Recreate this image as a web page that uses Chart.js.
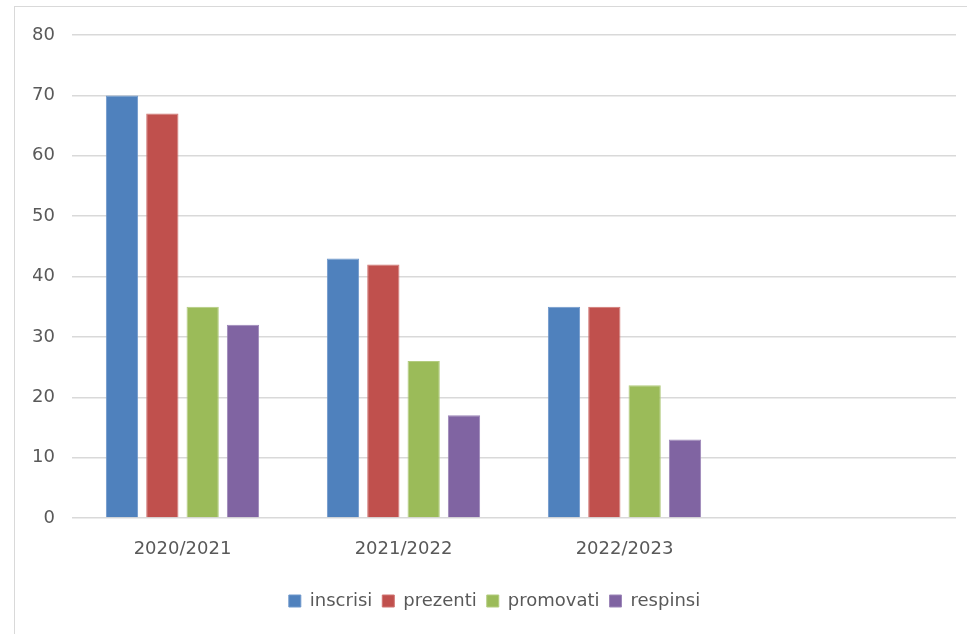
<!DOCTYPE html>
<html>
<head>
<meta charset="utf-8">
<script src="https://cdn.jsdelivr.net/npm/chart.js@4/dist/chart.umd.min.js"></script>
<style>
  html, body { margin: 0; padding: 0; background: #ffffff; overflow: hidden; }
  #wrap { position: relative; width: 967px; height: 634px; }
  #frame { position: absolute; left: 14px; top: 6px; width: 1000px; height: 700px; border: 1px solid #d9d9d9; box-sizing: border-box; }
  canvas { position: absolute; left: 0; top: 0; }
</style>
</head>
<body>
<div id="wrap">
  <div id="frame"></div>
  <canvas id="c" width="967" height="634"></canvas>
</div>
<script>
const categories = ['2020/2021', '2021/2022', '2022/2023', ''];
const inscrisi  = [70, 43, 35, null];
const prezenti  = [67, 42, 35, null];
const promovati = [35, 26, 22, null];
const respinsi  = [32, 17, 13, null];
const yTicks = [0, 10, 20, 30, 40, 50, 60, 70, 80];

const textColor = '#595959';
const fontFamily = '"DejaVu Sans", sans-serif';

new Chart(document.getElementById('c'), {
  type: 'bar',
  data: {
    labels: categories,
    datasets: [
      { label: 'inscrisi',  data: inscrisi,  backgroundColor: '#4F81BD', borderColor: '#6f98cc', borderWidth: 1 },
      { label: 'prezenti',  data: prezenti,  backgroundColor: '#C0504D', borderColor: '#d07572', borderWidth: 1 },
      { label: 'promovati', data: promovati, backgroundColor: '#9BBB59', borderColor: '#b3cc7f', borderWidth: 1 },
      { label: 'respinsi',  data: respinsi,  backgroundColor: '#8064A2', borderColor: '#9c86b8', borderWidth: 1 }
    ]
  },
  options: {
    responsive: false,
    animation: false,
    devicePixelRatio: 1,
    layout: { padding: { left: 33, right: 11, top: 35, bottom: 14 } },
    datasets: { bar: { categoryPercentage: 0.73, barPercentage: 0.8 } },
    plugins: {
      legend: {
        position: 'bottom',
        labels: {
          boxWidth: 12, boxHeight: 12, padding: 10,
          color: textColor,
          font: { family: fontFamily, size: 18 }
        }
      },
      tooltip: { enabled: false }
    },
    scales: {
      x: {
        grid: { display: false, drawTicks: false },
        border: { display: false },
        ticks: { color: textColor, font: { family: fontFamily, size: 18 }, padding: 21, maxRotation: 0 },
        afterFit: (s) => { s.height = 64; }
      },
      y: {
        min: 0, max: 80,
        afterBuildTicks: (s) => { s.ticks = yTicks.map(v => ({ value: v })); },
        grid: { color: '#d9d9d9', lineWidth: 1.5, drawTicks: false },
        border: { display: false },
        ticks: { color: textColor, font: { family: fontFamily, size: 18 }, padding: 17 },
        afterFit: (s) => { s.width = 39; }
      }
    }
  }
});
</script>
</body>
</html>
